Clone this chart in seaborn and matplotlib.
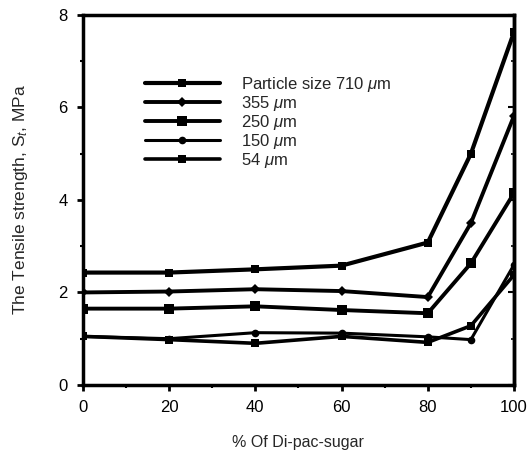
import matplotlib
matplotlib.use("Agg")
import matplotlib.pyplot as plt
from matplotlib.ticker import MultipleLocator
import numpy as np
import pandas as pd
import seaborn as sns

# Percentage of Di-pac sugar in the blend
pct_dipac = [0, 20, 40, 60, 80, 90, 100]

# Tensile strength (MPa) for each particle size
s_710 = [2.43, 2.43, 2.50, 2.58, 3.08, 5.00, 7.63]
s_355 = [2.00, 2.02, 2.07, 2.03, 1.90, 3.50, 5.82]
s_250 = [1.65, 1.65, 1.70, 1.62, 1.55, 2.63, 4.15]
s_150 = [1.05, 1.00, 1.13, 1.12, 1.04, 0.98, 2.60]
s_54 = [1.05, 0.98, 0.90, 1.05, 0.92, 1.28, 2.38]

series_labels = [r"Particle size 710 $\mu$m", r"355 $\mu$m", r"250 $\mu$m",
                 r"150 $\mu$m", r"54 $\mu$m"]
series_values = [s_710, s_355, s_250, s_150, s_54]
markers = ["s", "D", "s", "o", "s"]
marker_sizes = [6, 5.5, 7, 5.5, 6]
line_widths = [3.0, 2.8, 2.8, 2.2, 2.6]

x_ticks = [0, 20, 40, 60, 80, 100]
y_ticks = [0, 2, 4, 6, 8]

frames = []
for lab, vals in zip(series_labels, series_values):
    frames.append(pd.DataFrame({"pct": pct_dipac, "strength": vals, "size": lab}))
df = pd.concat(frames, ignore_index=True)

sns.set_theme(style="ticks")
plt.rcParams["font.family"] = ["Liberation Sans", "DejaVu Sans"]
plt.rcParams["mathtext.fontset"] = "custom"
plt.rcParams["mathtext.it"] = "Liberation Sans:italic"
plt.rcParams["mathtext.rm"] = "Liberation Sans"

fig = plt.figure(figsize=(5.31, 4.55), dpi=100)
ax = fig.add_axes([0.156, 0.154, 0.812, 0.813])

for lab, mk, ms, lw in zip(series_labels, markers, marker_sizes, line_widths):
    sub = df[df["size"] == lab]
    sns.lineplot(data=sub, x="pct", y="strength", ax=ax, color="black",
                 marker=mk, markersize=ms, linewidth=lw, markeredgewidth=0,
                 label=lab, errorbar=None)

ax.set_xlim(0, 100)
ax.set_ylim(0, 8)
ax.set_xticks(x_ticks)
ax.set_yticks(y_ticks)
ax.xaxis.set_minor_locator(MultipleLocator(10))
ax.yaxis.set_minor_locator(MultipleLocator(1))
ax.tick_params(axis="both", which="major", labelsize=12, length=4, width=2,
               colors="black", pad=7, direction="out")
ax.tick_params(axis="both", which="minor", length=2.5, width=1.5,
               colors="black", direction="out")

# inward ticks on the right-hand frame
sec = ax.secondary_yaxis("right")
sec.set_yticks(y_ticks)
sec.yaxis.set_minor_locator(MultipleLocator(1))
sec.tick_params(axis="y", which="major", direction="in", length=4, width=1.5,
                labelright=False, colors="black")
sec.tick_params(axis="y", which="minor", direction="in", length=2.5, width=1.2,
                colors="black")
sec.spines["right"].set_linewidth(2.5)

for side in ["left", "right", "top", "bottom"]:
    ax.spines[side].set_visible(True)
    ax.spines[side].set_linewidth(2.5)
    ax.spines[side].set_color("black")

ax.set_xlabel("% Of Di-pac-sugar", fontsize=11.5, labelpad=14)
ax.set_ylabel(r"The Tensile strength, S$_t$, MPa", fontsize=12.5, labelpad=20)

leg = ax.legend(loc="upper left", bbox_to_anchor=(0.128, 0.855), frameon=False,
                fontsize=12, handlelength=4.5, handletextpad=1.25,
                labelspacing=0.0, borderaxespad=0)

fig.savefig("out.png", dpi=100)
